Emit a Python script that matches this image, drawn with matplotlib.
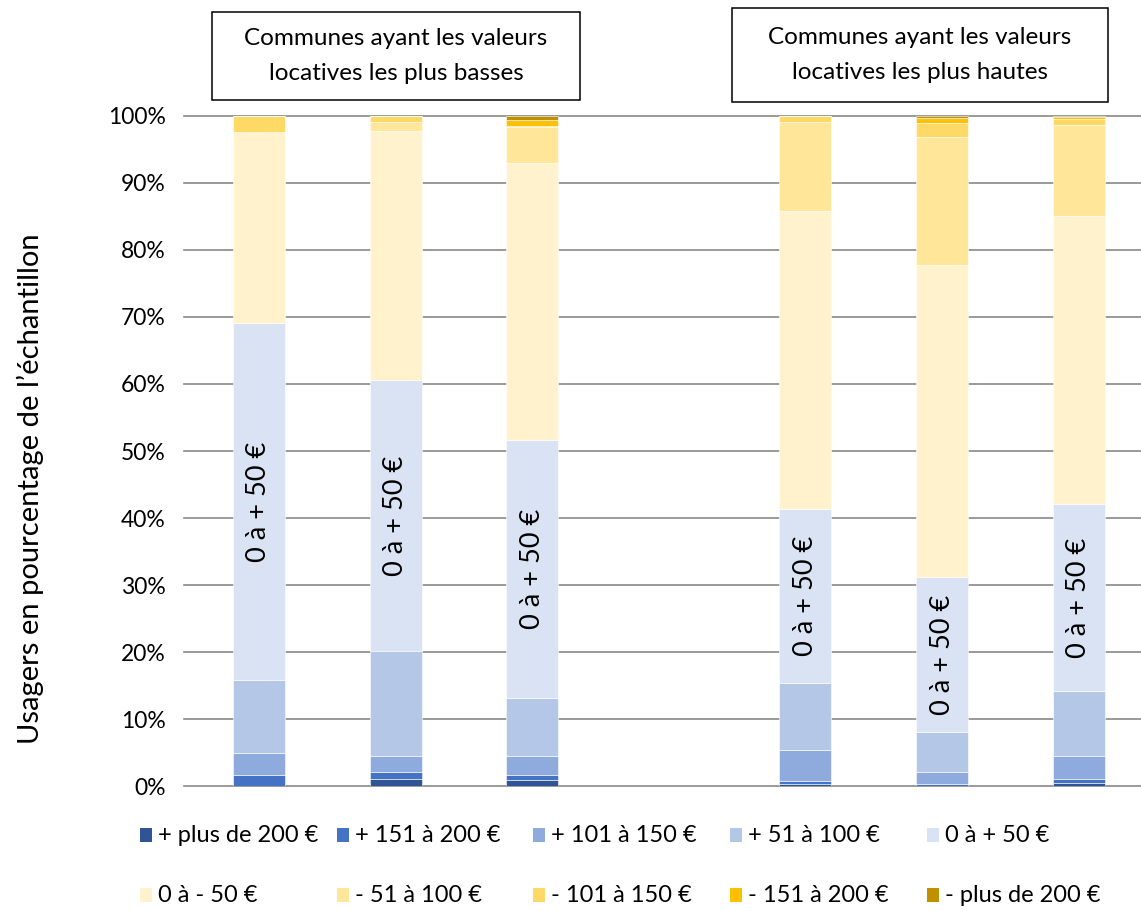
import numpy as np
import matplotlib
matplotlib.use('Agg')
import matplotlib.pyplot as plt
from matplotlib.patches import Rectangle

plt.rcParams['font.family'] = ['Lato', 'DejaVu Sans']

# 7 positions, the 4th one is left empty to separate the two groups
positions = np.arange(7)

series_names = ['+ plus de 200 €', '+ 151 à 200 €', '+ 101 à 150 €', '+ 51 à 100 €', '0 à + 50 €',
                '0 à - 50 €', '- 51 à 100 €', '- 101 à 150 €', '- 151 à 200 €', '- plus de 200 €']
series_colors = ['#2F5597', '#4472C4', '#8FAADC', '#B4C7E7', '#DAE3F3',
                 '#FFF2CC', '#FFE699', '#FFD966', '#FFC000', '#BF9000']

plus_200 = [0.1, 1.1, 0.9, 0, 0.35, 0.1, 0.55]
plus_151 = [1.6, 1.1, 0.85, 0, 0.5, 0.3, 0.6]
plus_101 = [3.3, 2.3, 2.7, 0, 4.55, 1.8, 3.3]
plus_51 = [10.85, 15.7, 8.65, 0, 10.05, 5.85, 9.7]
plus_0 = [53.25, 40.4, 38.5, 0, 25.95, 23.15, 28.0]
moins_0 = [28.4, 37.1, 41.4, 0, 44.4, 46.6, 42.9]
moins_51 = [0, 1.3, 5.3, 0, 13.2, 19.0, 13.6]
moins_101 = [2.5, 1.0, 0.2, 0, 1.0, 2.1, 0.9]
moins_151 = [0, 0, 0.8, 0, 0, 0.7, 0.3]
moins_200 = [0, 0, 0.7, 0, 0, 0.4, 0.15]

series = [plus_200, plus_151, plus_101, plus_51, plus_0,
          moins_0, moins_51, moins_101, moins_151, moins_200]

W, H = 1141, 911
fig = plt.figure(figsize=(W / 100, H / 100), dpi=100)
ax = fig.add_axes([184 / W, 124.7 / H, 1 - 184 / W, 670.6 / H])

bottom = np.zeros(7)
for vals, col in zip(series, series_colors):
    vals = np.array(vals)
    ax.bar(positions, vals, 0.38, bottom=bottom, color=col,
           edgecolor='white', linewidth=0.4, zorder=3)
    bottom = bottom + vals

# label du segment "0 à + 50 €"
base = np.array(plus_200) + np.array(plus_151) + np.array(plus_101) + np.array(plus_51)
for i in positions:
    if plus_0[i] > 0:
        ax.text(i, base[i] + plus_0[i] / 2, '0 à + 50 €', rotation=90,
                ha='center', va='center', fontsize=19.5, zorder=4)

ax.set_xlim((184 - 259) / 136.6, (1141 - 259) / 136.6)
ax.set_ylim(0, 100)
ax.set_yticks(np.arange(0, 101, 10))
ax.set_yticklabels(['%d%%' % v for v in range(0, 101, 10)], fontsize=16.5)
ax.set_xticks([])
ax.tick_params(axis='y', length=0, pad=13)
ax.grid(axis='y', color='#898989', linewidth=1.2, zorder=0)
ax.set_axisbelow(True)
for s in ax.spines.values():
    s.set_visible(False)
for line in ax.get_ygridlines():
    line.set_clip_on(False)

fig.text(30 / W, 1 - 489 / H, 'Usagers en pourcentage de l’échantillon',
         rotation=90, ha='center', va='center', fontsize=21)

# cadres des deux groupes
boxes = [(212, 12, 580, 100, 'Communes ayant les valeurs\nlocatives les plus basses'),
         (732, 8, 1108, 102, 'Communes ayant les valeurs\nlocatives les plus hautes')]
for x0, y0, x1, y1, txt in boxes:
    fig.patches.append(Rectangle((x0 / W, 1 - y1 / H), (x1 - x0) / W, (y1 - y0) / H,
                                 transform=fig.transFigure, facecolor='white',
                                 edgecolor='black', linewidth=1.1))
    fig.text((x0 + x1) / 2 / W, 1 - (y0 + y1) / 2 / H, txt, ha='center', va='center',
             fontsize=17.5, linespacing=1.8)

# légende sur deux lignes
col_x = [140, 337, 533, 730, 927]
row_y = [835, 895]
for k, (name, col) in enumerate(zip(series_names, series_colors)):
    r, c = divmod(k, 5)
    x = col_x[c]
    y = row_y[r]
    fig.patches.append(Rectangle((x / W, 1 - (y + 7) / H), 12 / W, 14 / H,
                                 transform=fig.transFigure, facecolor=col, edgecolor='none'))
    fig.text((x + 18) / W, 1 - y / H, name, ha='left', va='center', fontsize=17)

fig.savefig('out.png', dpi=100)
